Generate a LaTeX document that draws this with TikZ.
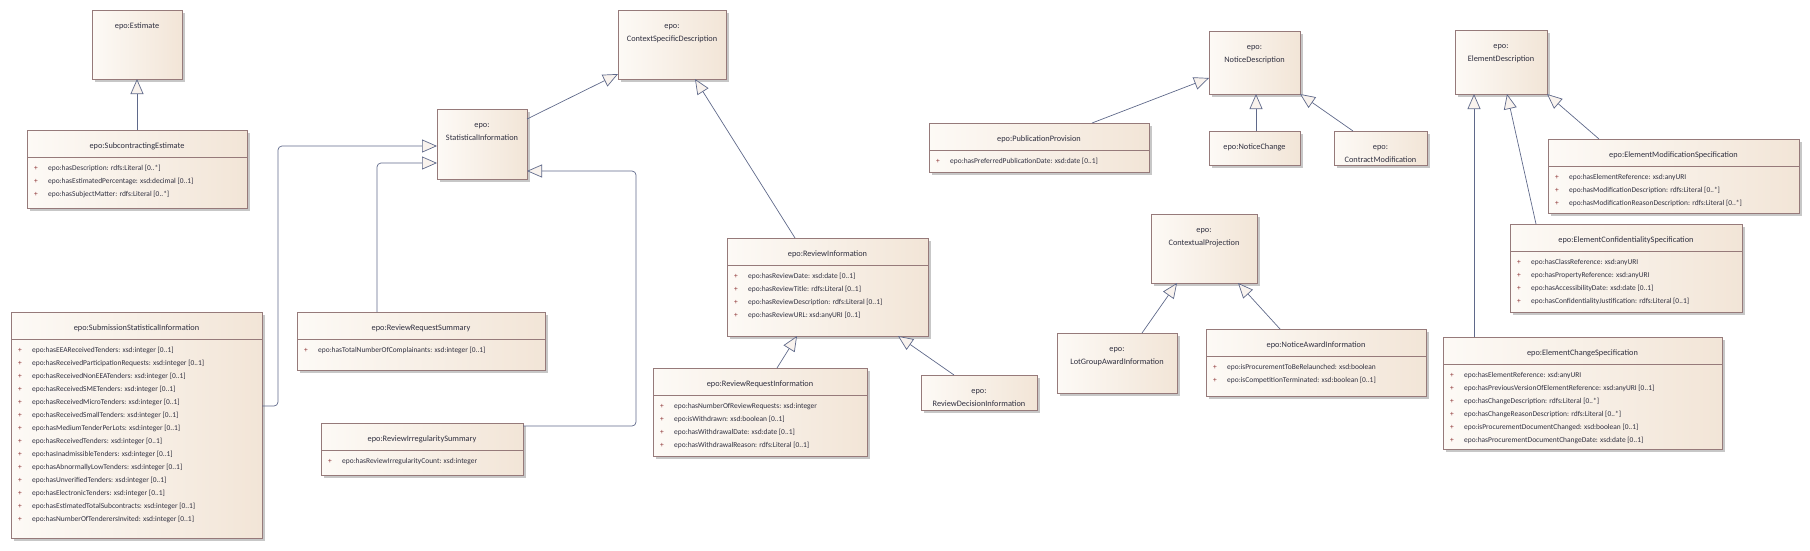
\documentclass[tikz,border=0pt]{standalone}
\usepackage{fontspec}
\setmainfont{Carlito}
\usetikzlibrary{positioning,calc,arrows.meta,shadows}

\definecolor{boxleft}{RGB}{253,250,246}
\definecolor{boxright}{RGB}{242,229,215}
\definecolor{boxline}{RGB}{150,122,122}
\definecolor{textcol}{RGB}{48,48,64}
\definecolor{pluscol}{RGB}{140,50,50}
\definecolor{linkcol}{RGB}{95,105,138}
\definecolor{tipfill}{RGB}{249,243,238}

\tikzset{
    classbox/.style={draw=boxline,line width=0.8pt,left color=boxleft,right color=boxright,
        anchor=north west,inner sep=0pt,outer sep=0pt,
        drop shadow={shadow xshift=2.5pt,shadow yshift=-2.5pt,fill=black!22,opacity=1}},
    classtext/.style={text=textcol,font=\fontsize{8.3}{13}\selectfont,inner sep=0pt,text height=5.5pt,text depth=1.5pt},
    attrtext/.style={classtext,font=\fontsize{7.45}{13}\selectfont,anchor=west},
    plustext/.style={attrtext,anchor=center,text=pluscol},
    divider/.style={draw=boxline,line width=0.8pt},
    gen/.style={draw=linkcol,line width=0.7pt,rounded corners=4pt,
        -{Triangle[length=15pt,width=13pt,fill=tipfill,line width=0.7pt]}}
}

% box: name, x, y, width, height, title lines
\newcommand{\umlbox}[6]{%
    \node[classbox,minimum width=#4pt,minimum height=#5pt] (#1) at (#2,#3) {};
    \foreach \ttl [count=\i] in {#6}
        \node[classtext] (#1-t\i) at ($(#1.north)+(0,3+13*\i)$) {\ignorespaces\ttl};
}
% attributes: name, list
\newcommand{\umlattrs}[2]{%
    \draw[divider] ($(#1.north west)+(0,27)$) -- ($(#1.north east)+(0,27)$);
    \foreach \att [count=\i] in {#2} {
        \node[plustext] (#1-p\i) at ($(#1.north west)+(9,25+13*\i)$) {+};
        \node[attrtext] (#1-a\i) at ($(#1.north west)+(21,25+13*\i)$) {\ignorespaces\att};
    }
}

\begin{document}
\begin{tikzpicture}[x=1pt,y=-1pt]
        \useasboundingbox (0,0) rectangle (1810,550);

        % left part
        \umlbox{EST}{92}{10}{90}{69}{epo:Estimate}
        \umlbox{SE}{27}{130}{220}{78}{epo:SubcontractingEstimate}
        \umlattrs{SE}{epo:hasDescription: rdfs:Literal [0..*],
            epo:hasEstimatedPercentage: xsd:decimal [0..1],
            epo:hasSubjectMatter: rdfs:Literal [0..*]}
        \umlbox{SSI}{11}{312}{251}{226}{epo:SubmissionStatisticalInformation}
        \umlattrs{SSI}{epo:hasEEAReceivedTenders: xsd:integer [0..1],
            epo:hasReceivedParticipationRequests: xsd:integer [0..1],
            epo:hasReceivedNonEEATenders: xsd:integer [0..1],
            epo:hasReceivedSMETenders: xsd:integer [0..1],
            epo:hasReceivedMicroTenders: xsd:integer [0..1],
            epo:hasReceivedSmallTenders: xsd:integer [0..1],
            epo:hasMediumTenderPerLots: xsd:integer [0..1],
            epo:hasReceivedTenders: xsd:integer [0..1],
            epo:hasInadmissibleTenders: xsd:integer [0..1],
            epo:hasAbnormallyLowTenders: xsd:integer [0..1],
            epo:hasUnverifiedTenders: xsd:integer [0..1],
            epo:hasElectronicTenders: xsd:integer [0..1],
            epo:hasEstimatedTotalSubcontracts: xsd:integer [0..1],
            epo:hasNumberOfTenderersInvited: xsd:integer [0..1]}
        \umlbox{SI}{437}{109}{90}{70}{epo:,StatisticalInformation}
        \umlbox{RRS}{297}{312}{248}{58}{epo:ReviewRequestSummary}
        \umlattrs{RRS}{epo:hasTotalNumberOfComplainants: xsd:integer [0..1]}
        \umlbox{RIS}{321}{423}{202}{52}{epo:ReviewIrregularitySummary}
        \umlattrs{RIS}{epo:hasReviewIrregularityCount: xsd:integer}

        % review part
        \umlbox{CSD}{618}{10}{108}{69}{epo:,ContextSpecificDescription}
        \umlbox{RI}{727}{238}{201}{98}{epo:ReviewInformation}
        \umlattrs{RI}{epo:hasReviewDate: xsd:date [0..1],
            epo:hasReviewTitle: rdfs:Literal [0..1],
            epo:hasReviewDescription: rdfs:Literal [0..1],
            epo:hasReviewURL: xsd:anyURI [0..1]}
        \umlbox{RRQ}{653}{368}{214}{88}{epo:ReviewRequestInformation}
        \umlattrs{RRQ}{epo:hasNumberOfReviewRequests: xsd:integer,
            epo:isWithdrawn: xsd:boolean [0..1],
            epo:hasWithdrawalDate: xsd:date [0..1],
            epo:hasWithdrawalReason: rdfs:Literal [0..1]}
        \umlbox{RDI}{921}{375}{116}{35}{epo:,ReviewDecisionInformation}

        % notice part
        \umlbox{PP}{929}{123}{220}{49}{epo:PublicationProvision}
        \umlattrs{PP}{epo:hasPreferredPublicationDate: xsd:date [0..1]}
        \umlbox{ND}{1209}{31}{91}{63}{epo:,NoticeDescription}
        \umlbox{NC}{1209}{131}{91}{34}{epo:NoticeChange}
        \umlbox{CM}{1334}{131}{93}{34}{epo:,ContractModification}
        \umlbox{CP}{1151}{214}{106}{69}{epo:,ContextualProjection}
        \umlbox{LGA}{1057}{333}{120}{60}{epo:,LotGroupAwardInformation}
        \umlbox{NAI}{1206}{329}{220}{67}{epo:NoticeAwardInformation}
        \umlattrs{NAI}{epo:isProcurementToBeRelaunched: xsd:boolean,
            epo:isCompetitionTerminated: xsd:boolean [0..1]}

        % element part
        \umlbox{ED}{1455}{30}{92}{64}{epo:,ElementDescription}
        \umlbox{EMS}{1548}{139}{251}{74}{epo:ElementModificationSpecification}
        \umlattrs{EMS}{epo:hasElementReference: xsd:anyURI,
            epo:hasModificationDescription: rdfs:Literal [0..*],
            epo:hasModificationReasonDescription: rdfs:Literal [0..*]}
        \umlbox{ECS}{1510}{224}{232}{88}{epo:ElementConfidentialitySpecification}
        \umlattrs{ECS}{epo:hasClassReference: xsd:anyURI,
            epo:hasPropertyReference: xsd:anyURI,
            epo:hasAccessibilityDate: xsd:date [0..1],
            epo:hasConfidentialityJustification: rdfs:Literal [0..1]}
        \umlbox{ECH}{1443}{337}{279}{112}{epo:ElementChangeSpecification}
        \umlattrs{ECH}{epo:hasElementReference: xsd:anyURI,
            epo:hasPreviousVersionOfElementReference: xsd:anyURI [0..1],
            epo:hasChangeDescription: rdfs:Literal [0..*],
            epo:hasChangeReasonDescription: rdfs:Literal [0..*],
            epo:isProcurementDocumentChanged: xsd:boolean [0..1],
            epo:hasProcurementDocumentChangeDate: xsd:date [0..1]}

        % generalisations
        \draw[gen] (SE.north) -- (EST.south);
        \draw[gen] ($(SSI.north east)+(0,94)$) -- ++(16,0) |- ($(SI.north west)+(0,37)$);
        \draw[gen] ($(RRS.north west)+(80,0)$) |- ($(SI.north west)+(0,54)$);
        \draw[gen] ($(RIS.north east)+(0,3)$) -- ++(113,0) |- ($(SI.north east)+(0,62)$);
        \draw[gen] ($(SI.north east)+(0,10)$) -- ($(CSD.south west)+(0,-5)$);
        \draw[gen] ($(RI.north west)+(68,0)$) -- ($(CSD.south west)+(77,0)$);
        \draw[gen] ($(RRQ.north west)+(124,0)$) -- ($(RI.south west)+(70,0)$);
        \draw[gen] ($(RDI.north west)+(33,0)$) -- ($(RI.south west)+(171,0)$);
        \draw[gen] ($(PP.north west)+(163,0)$) -- ($(ND.south west)+(0,-16)$);
        \draw[gen] ($(NC.north west)+(47,0)$) -- ($(ND.south west)+(47,0)$);
        \draw[gen] ($(CM.north west)+(19,0)$) -- (ND.south east);
        \draw[gen] ($(LGA.north west)+(85,0)$) -- ($(CP.south west)+(26,0)$);
        \draw[gen] ($(NAI.north west)+(74,0)$) -- ($(CP.south west)+(87,0)$);
        \draw[gen] ($(EMS.north west)+(51,0)$) -- (ED.south east);
        \draw[gen] ($(ECS.north west)+(26,0)$) -- ($(ED.south west)+(52,0)$);
        \draw[gen] ($(ECH.north west)+(31,0)$) -- ($(ED.south west)+(19,0)$);
\end{tikzpicture}
\end{document}
